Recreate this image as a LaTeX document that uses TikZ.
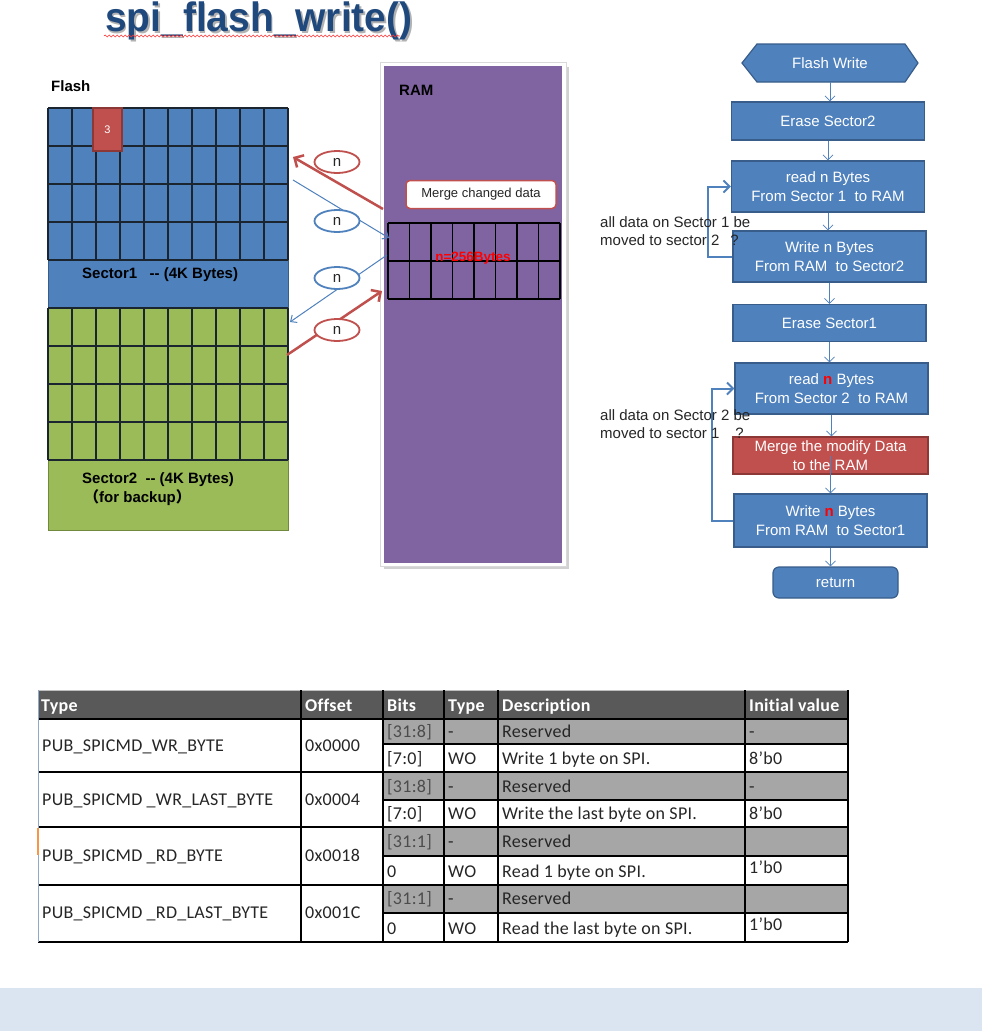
\documentclass[tikz,border=0pt]{standalone}
\usepackage{fontspec}
\setmainfont{Liberation Sans}
\newfontfamily\cjk{Noto Sans CJK SC}
\newfontfamily\tabfont[LetterSpace=1.5,Ligatures=NoCommon]{Carlito}
\usetikzlibrary{arrows.meta,shapes.geometric,decorations.pathmorphing,calc}
\definecolor{fcblue}{HTML}{4F81BD}
\definecolor{fcborder}{HTML}{385D8A}
\definecolor{fcred}{HTML}{C0504D}
\definecolor{redborder}{HTML}{8C3836}
\definecolor{flgreen}{HTML}{9BBB59}
\definecolor{greenborder}{HTML}{71893F}
\definecolor{rampurple}{HTML}{8064A2}
\definecolor{titleblue}{HTML}{1F497D}
\definecolor{band}{HTML}{DBE5F1}
\definecolor{hdrgrey}{HTML}{595959}
\definecolor{resgrey}{HTML}{A6A6A6}
\definecolor{gridline}{HTML}{1A2530}
\definecolor{txtdark}{HTML}{262626}
\definecolor{tabedge}{HTML}{8EA9C9}
\definecolor{orangetick}{HTML}{F79646}
\begin{document}
\begin{tikzpicture}[x=1pt,y=-1pt,
  fbox/.style={draw=fcborder, fill=fcblue, line width=1.2pt, text=white, minimum width=193pt,
    align=center, font=\fontsize{15}{19}\selectfont, inner sep=0pt},
  flow/.style={draw=fcblue, line width=0.8pt, -{Straight Barb[length=5pt,width=10pt]}},
  loopline/.style={draw=fcblue, line width=2pt, -{Straight Barb[length=6pt,width=12pt]}},
  ell/.style={ellipse, minimum width=45pt, minimum height=22pt, fill=white, line width=1.8pt,
    inner sep=0pt, text=txtdark, font=\fontsize{15}{15}\selectfont},
  redarrow/.style={draw=fcred, line width=2.5pt, -{Straight Barb[length=7pt,width=14pt]}},
  bluearrow/.style={draw=fcblue, line width=1pt, -{Straight Barb[length=5pt,width=9pt]}},
  lbl/.style={anchor=base west, inner sep=0pt, text=black, font=\fontsize{15}{19}\selectfont\bfseries},
  note/.style={anchor=base west, inner sep=0pt, text=txtdark, font=\fontsize{15}{19}\selectfont},
  tcell/.style={anchor=west, inner sep=0pt, text height=11.5pt, text depth=0pt, text=txtdark,
    font=\tabfont\fontsize{18}{20}\selectfont},
  thead/.style={anchor=west, inner sep=0pt, text height=11.5pt, text depth=0pt, text=white,
    font=\tabfont\fontsize{18}{20}\selectfont\bfseries},
  tline/.style={draw=black, line width=1.2pt}
]
\useasboundingbox (0,0) rectangle (982,1031);
\fill[white] (0,0) rectangle (982,1031);
\fill[band] (0,988) rectangle (982,1031);

% title
\node[anchor=base west, inner sep=0pt, xscale=0.95, text=black!30, font=\fontsize{41}{41}\selectfont\bfseries] (titleshadow) at (106.5,33) {spi\_flash\_write()};
\node[anchor=base west, inner sep=0pt, xscale=0.95, text=titleblue, font=\fontsize{41}{41}\selectfont\bfseries] (title) at (105,31.5) {spi\_flash\_write()};
\draw[red!80, line width=0.6pt, decorate, decoration={snake, amplitude=1pt, segment length=4pt}] (104,36) -- (400,36);

% Flash
\node[lbl] (flashlbl) at (51,91) {Flash};
\fill[fcblue] (48,108) rectangle (288,308);
\draw[fcborder, line width=1pt] (48,108) rectangle (288,308);
\foreach \yy in {108,146,184,222,260} \draw[gridline, line width=1.3pt] (48,\yy) -- (288,\yy);
\foreach \i in {0,...,10} \draw[gridline, line width=1.3pt] (48+24*\i,108) -- (48+24*\i,260);
\node[draw=redborder, fill=fcred, line width=1.2pt, minimum width=29pt, minimum height=43pt, inner sep=0pt,
  text=white, font=\fontsize{11}{11}\selectfont] (cell3) at (107.5,129.5) {3};
\node[lbl] (sec1) at (82,278) {Sector1\ \ \ -{}- (4K Bytes)};

\fill[flgreen] (48,308) rectangle (288,530);
\draw[greenborder, line width=1pt] (48,308) rectangle (288,530);
\foreach \yy in {308,346,384,422,460} \draw[gridline, line width=1.3pt] (48,\yy) -- (288,\yy);
\foreach \i in {0,...,10} \draw[gridline, line width=1.3pt] (48+24*\i,308) -- (48+24*\i,460);
\node[lbl] (sec2) at (82,483) {Sector2\ \ -{}- (4K Bytes)};
\node[lbl] (sec2b) at (84,502) {{\cjk （}for backup{\cjk ）}};

% RAM
\fill[black!18] (384,67) rectangle (569,569);
\fill[white] (380,62) rectangle (566,566);
\draw[black!15] (380,62) rectangle (566,566);
\fill[rampurple] (384,66) rectangle (562,563);
\node[lbl] (ramlbl) at (399,95) {RAM};
\node[draw=fcred, fill=white, line width=1.5pt, rounded corners=4pt, minimum width=150pt, minimum height=28pt,
  inner sep=0pt, text=txtdark, font=\fontsize{13}{13}\selectfont] (mcd) at (481,194.5) {Merge changed data};
\foreach \yy in {223,261,299} \draw[black, line width=1.2pt] (388,\yy) -- (560,\yy);
\foreach \i in {0,...,8} \draw[black, line width=1.2pt] (388+21.5*\i,223) -- (388+21.5*\i,299);
\node[text=red, inner sep=0pt, font=\fontsize{13.5}{13.5}\selectfont\bfseries] (n256) at (473,258) {n=256Bytes};

% arrows flash <-> RAM
\coordinate (fA) at (293,157); \coordinate (rA) at (383,209);
\coordinate (fB) at (293,180); \coordinate (rB) at (389,238);
\coordinate (rC) at (387,255); \coordinate (fC) at (290,322);
\coordinate (fD) at (287,355); \coordinate (rD) at (382,291);
\draw[redarrow] (rA) -- (fA);
\draw[bluearrow] (fB) -- (rB);
\draw[bluearrow] (rC) -- (fC);
\draw[redarrow] (fD) -- (rD);
\node[ell, draw=fcred] (n1) at (337,162) {n};
\node[ell, draw=fcblue] (n2) at (337,221) {n};
\node[ell, draw=fcblue] (n3) at (337,278) {n};
\node[ell, draw=fcred] (n4) at (337,330) {n};

% flowchart
\fill[fcblue] (742,63) -- (757,44) -- (905,44) -- (918,63) -- (905,82) -- (757,82) -- cycle;
\draw[fcborder, line width=1.2pt] (742,63) -- (757,44) -- (905,44) -- (918,63) -- (905,82) -- (757,82) -- cycle;
\node[minimum height=38pt, minimum width=150pt, inner sep=0pt, text=white, font=\fontsize{15}{19}\selectfont] (fw) at (830,63) {Flash Write};
\node[fbox, minimum height=38pt] (es2) at (828,121) {Erase Sector2};
\node[fbox, minimum height=51pt] (r1) at (828,186.5) {read n Bytes\\From Sector 1\ \ to RAM};
\node[fbox, minimum height=51pt] (w2) at (829.5,256.5) {Write n Bytes\\From RAM\ \ to Sector2};
\node[fbox, minimum height=37pt] (es1) at (829.5,323) {Erase Sector1};
\node[fbox, minimum height=51pt] (r2) at (831.5,388.5) {read \textcolor{red}{\textbf{n}} Bytes\\From Sector 2\ \ to RAM};
\node[fbox, fill=fcred, draw=redborder, minimum width=195pt, minimum height=37pt] (mg) at (830.5,455.5) {Merge the modify Data\\to the RAM};
\node[fbox, minimum height=53pt] (w1) at (830.5,520.5) {Write \textcolor{red}{\textbf{n}} Bytes\\From RAM\ \ to Sector1};
\node[fbox, rounded corners=6pt, minimum width=125pt, minimum height=31pt] (ret) at (835.5,582.5) {return};

\draw[flow] (fw.south) -- (fw.south |- es2.north);
\draw[flow] (es2.south) -- (es2.south |- r1.north);
\draw[flow] (r1.south) -- (r1.south |- w2.north);
\draw[flow] (w2.south) -- (w2.south |- es1.north);
\draw[flow] (es1.south) -- (es1.south |- r2.north);
\draw[flow] (r2.south) -- (r2.south |- mg.north);
\draw[flow] (mg.center) -- (mg.center |- w1.north);
\draw[flow] (w1.south) -- (w1.south |- ret.north);

\coordinate (lp1) at (708,256.5);
\coordinate (lp2) at (712,520.5);
\draw[loopline] (w2.west) -- (lp1) |- (r1.west);
\draw[loopline] (w1.west) -- (lp2) |- (r2.west);

\node[note] (an1a) at (600,227) {all data on Sector 1 be};
\node[note] (an1b) at (600,245) {moved to sector 2\hspace{11pt}?};
\node[note] (an2a) at (600,420) {all data on Sector 2 be};
\node[note] (an2b) at (600,438) {moved to sector 1\hspace{16pt}?};

% table
\fill[hdrgrey] (38,690) rectangle (848,719);
\fill[resgrey] (383,719) rectangle (848,744);
\fill[resgrey] (383,772) rectangle (848,800);
\fill[resgrey] (383,827) rectangle (848,856);
\fill[resgrey] (383,885) rectangle (848,913);
\draw[black!25, line width=0.8pt] (38,690) -- (848,690);
\foreach \yy in {719,772,827,885} \draw[tline] (38,\yy) -- (848,\yy);
\draw[black, line width=1.8pt] (38,942) -- (848,942);
\foreach \yy in {744,800,856,913} \draw[tline] (383,\yy) -- (848,\yy);
\foreach \xx in {301,383,444,498,745,848} \draw[tline] (\xx,690) -- (\xx,942);
\draw[tabedge, line width=1pt] (38,690) -- (38,942);
\draw[orangetick, line width=1.5pt] (38,828) -- (38,855);

\node[thead] (h1) at (41,706) {Type};
\node[thead] (h2) at (305,706) {Offset};
\node[thead] (h3) at (387,706) {Bits};
\node[thead] (h4) at (448,706) {Type};
\node[thead] (h5) at (502,706) {Description};
\node[thead] (h6) at (749,706) {Initial value};

\node[tcell] (a1) at (42,746) {PUB\_SPICMD\_WR\_BYTE};
\node[tcell] (b1) at (305,746) {0x0000};
\node[tcell, text=black!70] (c1) at (387,732) {[31:8]};
\node[tcell] (d1) at (448,732) {-};
\node[tcell] (e1) at (502,732) {Reserved};
\node[tcell] (f1) at (749,732) {-};
\node[tcell] (c1b) at (387,759) {[7:0]};
\node[tcell] (d1b) at (448,759) {WO};
\node[tcell] (e1b) at (502,759) {Write 1 byte on SPI.};
\node[tcell] (f1b) at (749,759) {8’b0};

\node[tcell] (a2) at (42,800) {PUB\_SPICMD \_WR\_LAST\_BYTE};
\node[tcell] (b2) at (305,800) {0x0004};
\node[tcell, text=black!70] (c2) at (387,787) {[31:8]};
\node[tcell] (d2) at (448,787) {-};
\node[tcell] (e2) at (502,787) {Reserved};
\node[tcell] (f2) at (749,787) {-};
\node[tcell] (c2b) at (387,814) {[7:0]};
\node[tcell] (d2b) at (448,814) {WO};
\node[tcell] (e2b) at (502,814) {Write the last byte on SPI.};
\node[tcell] (f2b) at (749,814) {8’b0};

\node[tcell] (a3) at (42,856) {PUB\_SPICMD \_RD\_BYTE};
\node[tcell] (b3) at (305,856) {0x0018};
\node[tcell, text=black!70] (c3) at (387,842) {[31:1]};
\node[tcell] (d3) at (448,842) {-};
\node[tcell] (e3) at (502,842) {Reserved};
\node[tcell] (c3b) at (387,872) {0};
\node[tcell] (d3b) at (448,872) {WO};
\node[tcell] (e3b) at (502,872) {Read 1 byte on SPI.};
\node[tcell] (f3b) at (749,868) {1’b0};

\node[tcell] (a4) at (42,913) {PUB\_SPICMD \_RD\_LAST\_BYTE};
\node[tcell] (b4) at (305,913) {0x001C};
\node[tcell, text=black!70] (c4) at (387,899) {[31:1]};
\node[tcell] (d4) at (448,899) {-};
\node[tcell] (e4) at (502,899) {Reserved};
\node[tcell] (c4b) at (387,929) {0};
\node[tcell] (d4b) at (448,929) {WO};
\node[tcell] (e4b) at (502,929) {Read the last byte on SPI.};
\node[tcell] (f4b) at (749,925) {1’b0};
\end{tikzpicture}
\end{document}
